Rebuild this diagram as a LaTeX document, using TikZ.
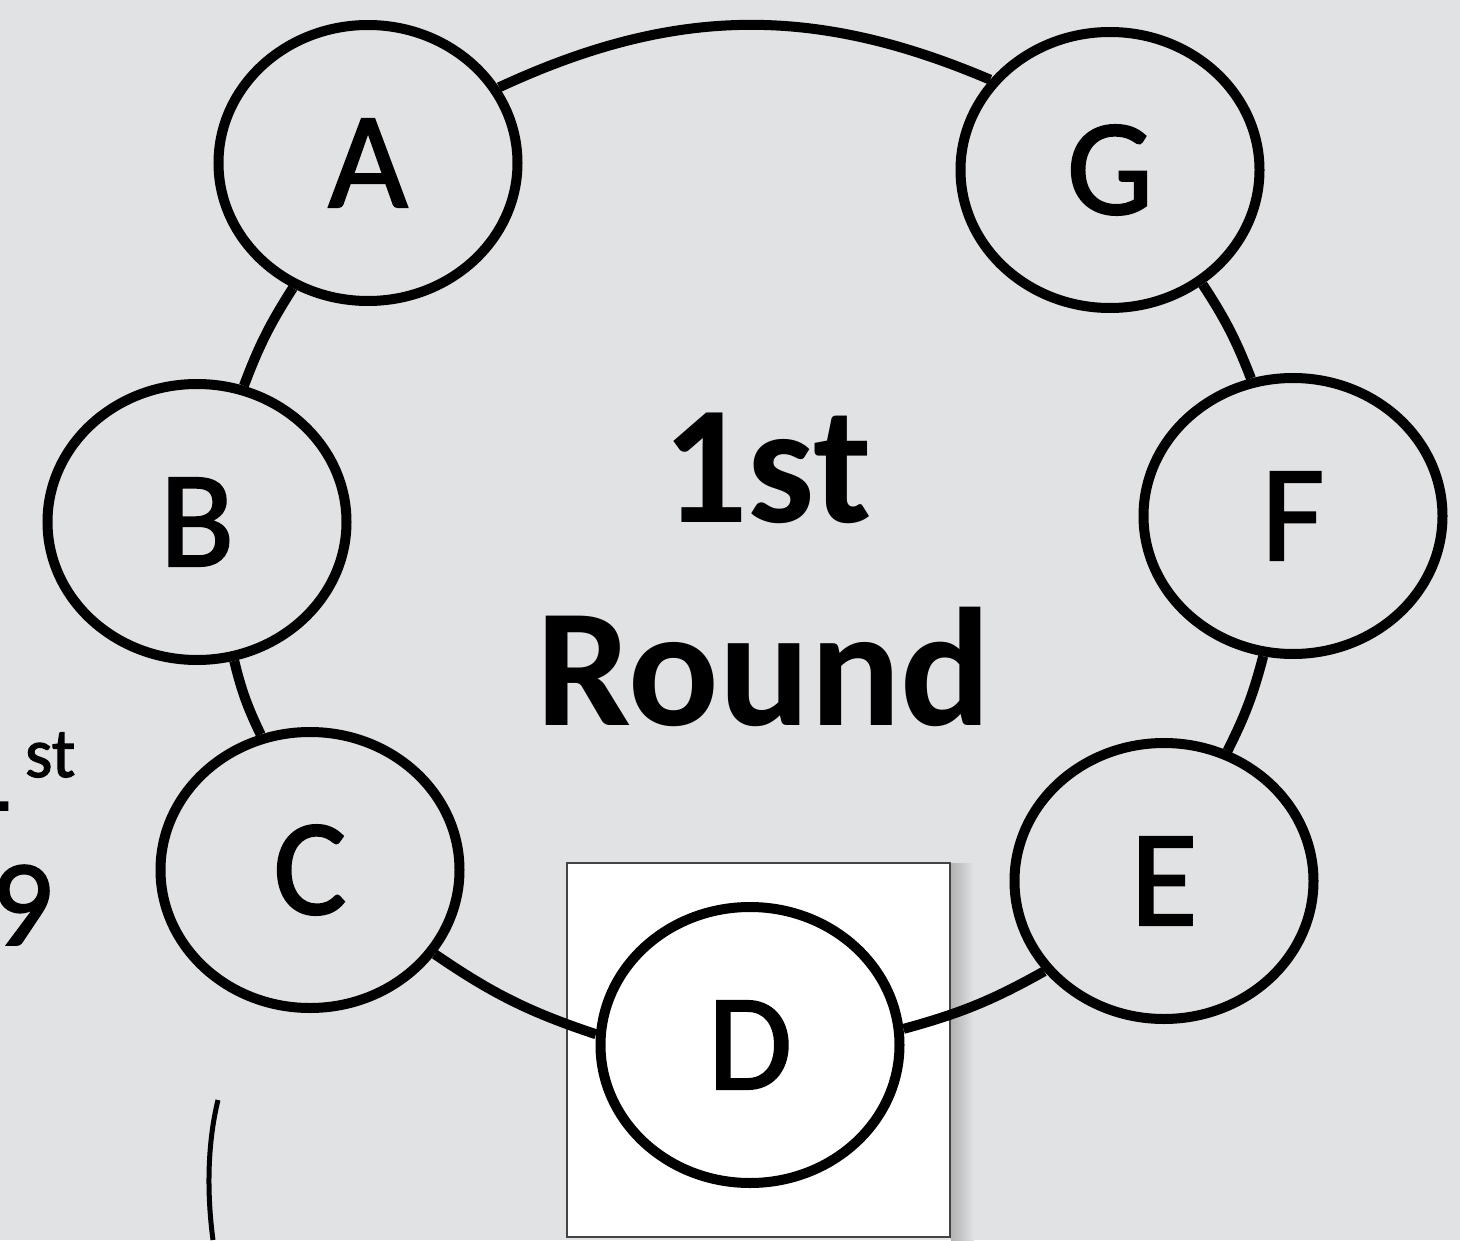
\documentclass[tikz,border=0pt]{standalone}
\usepackage{fontspec}
\setmainfont{Carlito}
\newfontfamily\heavyfont[FakeBold=1.6]{Carlito}
\usetikzlibrary{shapes.geometric}
\definecolor{bg}{HTML}{E1E2E4}
\definecolor{boxline}{HTML}{444444}

\begin{document}
\begin{tikzpicture}[line width=0.1cm,
  player/.style={ellipse,draw,fill=bg,inner sep=0pt,
    minimum width=2.99cm,minimum height=2.76cm,
    font=\heavyfont\fontsize{39}{46}\selectfont},
  ring/.style={line width=0.1cm},
  title/.style={anchor=base,inner sep=0pt,font=\bfseries\fontsize{48}{56}\selectfont},
  cutoff/.style={inner sep=0pt,font=\heavyfont\fontsize{35}{42}\selectfont}]
% ---------- canvas ----------
\useasboundingbox (0,0) rectangle (14.6,12.4);
\clip (0,0) rectangle (14.6,12.4);
\fill[bg] (0,0) rectangle (14.6,12.4);
% ---------- highlight box round D ----------
\shade[left color=gray!60,right color=bg] (9.51,0) rectangle (9.74,3.77);
\draw[fill=white,draw=boxline,line width=0.02cm] (5.67,0.03) rectangle (9.50,3.77);
% ---------- players ----------
\node[player] (A) at (3.68,10.77) {A};
\node[player] (G) at (11.10,10.70) {G};
\node[player] (B) at (1.97,7.18) {B};
\node[player] (F) at (12.93,7.24) {F};
\node[player] (C) at (3.10,3.70) {C};
\node[player] (E) at (11.64,3.59) {E};
\node[player,fill=white] (D) at (7.50,1.95) {D};
% ---------- ring ----------
\draw[ring] (A.239) to[bend right=6] (B.71);
\draw[ring] (B.285) to[bend right=6] (C.110);
\draw[ring] (C.326) to[bend right=8] (D.176);
\draw[ring] (D.6) to[bend right=7] (E.217);
\draw[ring] (E.64) to[bend right=6] (F.258);
\draw[ring] (F.107) to[bend right=6] (G.309);
\draw[ring] (G.143) to[bend right=24] (A.30);
% ---------- centre title ----------
\node[title] (first) at (7.67,7.18) {1st};
\node[title] (round) at (7.64,5.15) {Round};
% ---------- cut-off text at the left ----------
\node[cutoff,anchor=base east] (one) at (0.18,4.30) {1};
\node[cutoff,anchor=base west,font=\heavyfont\fontsize{20}{24}\selectfont] (sup) at (0.20,4.63) {st};
\node[cutoff,anchor=base east] (nine) at (0.58,2.95) {9};
\draw[line width=0.05cm] (2.18,1.40) .. controls (2.07,0.95) and (2.07,0.45) .. (2.13,0);
\end{tikzpicture}
\end{document}
